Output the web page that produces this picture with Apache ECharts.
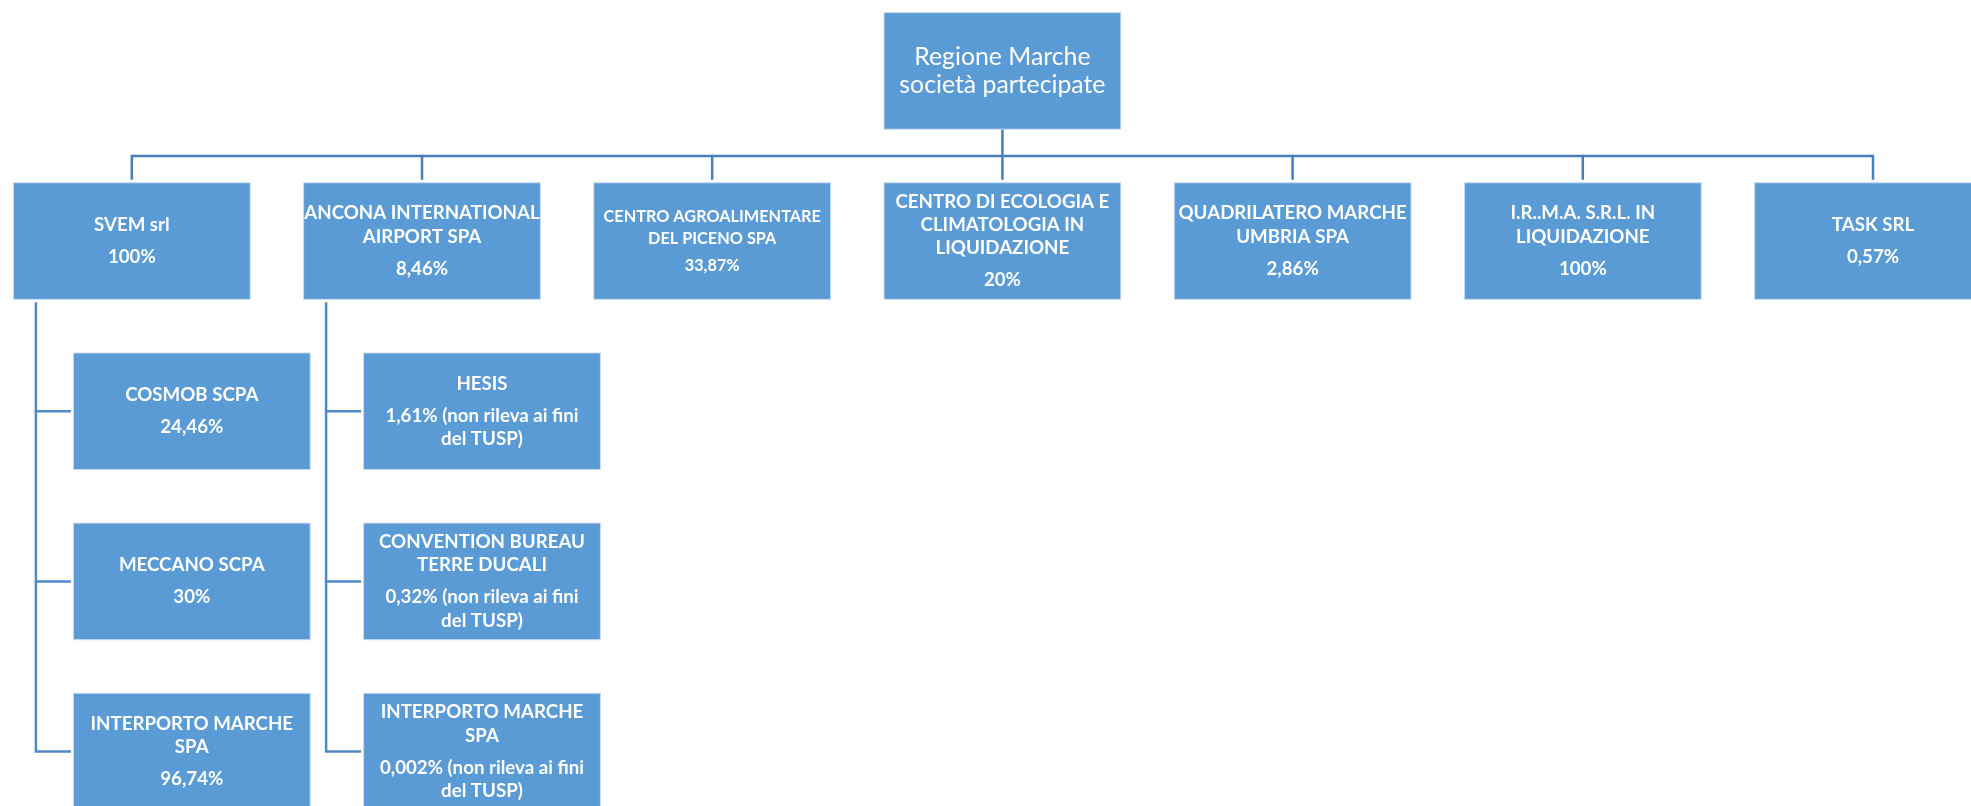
<!DOCTYPE html>
<html>
<head>
<meta charset="utf-8">
<script src="https://cdn.jsdelivr.net/npm/echarts@6/dist/echarts.min.js"></script>
<style>
html,body{margin:0;padding:0;background:#ffffff;}
#chart{width:1971px;height:806px;}
</style>
</head>
<body>
<div id="chart"></div>
<script>
// ---- data ----
const rootLines = ['Regione Marche', 'società partecipate'];
const level1Names = [
  ['SVEM srl'],
  ['ANCONA INTERNATIONAL', 'AIRPORT SPA'],
  ['CENTRO AGROALIMENTARE', 'DEL PICENO SPA'],
  ['CENTRO DI ECOLOGIA E', 'CLIMATOLOGIA IN', 'LIQUIDAZIONE'],
  ['QUADRILATERO MARCHE', 'UMBRIA SPA'],
  ['I.R..M.A. S.R.L. IN', 'LIQUIDAZIONE'],
  ['TASK SRL']
];
const level1Shares = ['100%', '8,46%', '33,87%', '20%', '2,86%', '100%', '0,57%'];
const svemChildNames = [['COSMOB SCPA'], ['MECCANO SCPA'], ['INTERPORTO MARCHE', 'SPA']];
const svemChildShares = [['24,46%'], ['30%'], ['96,74%']];
const anconaChildNames = [['HESIS'], ['CONVENTION BUREAU', 'TERRE DUCALI'], ['INTERPORTO MARCHE', 'SPA']];
const anconaChildShares = [
  ['1,61% (non rileva ai fini', 'del TUSP)'],
  ['0,32% (non rileva ai fini', 'del TUSP)'],
  ['0,002% (non rileva ai fini', 'del TUSP)']
];
// which level-1 node each child group belongs to
const childGroups = [
  { parent: 0, names: svemChildNames, shares: svemChildShares },
  { parent: 1, names: anconaChildNames, shares: anconaChildShares }
];
// level-1 nodes whose text is set smaller in the original
const smallTextNodes = ['CENTRO AGROALIMENTARE'];

// ---- build nodes (structure only: column / row indices) ----
const nodes = [];
const rootCol = (level1Names.length - 1) / 2;
nodes.push({ kind: 'root', col: rootCol, row: 0, name: rootLines, share: [] });
level1Names.forEach((nm, i) => {
  nodes.push({ kind: 'l1', col: i, row: 1, name: nm, share: [level1Shares[i]],
    small: smallTextNodes.indexOf(nm[0]) >= 0 });
});
childGroups.forEach(g => {
  g.names.forEach((nm, j) => {
    nodes.push({ kind: 'child', col: g.parent, row: 2 + j, name: nm, share: g.shares[j], first: j === 0 });
  });
});

// ---- styles ----
const BOX_W = 236.8, BOX_H = 116.6;
const CHILD_DX = 60;        // child box shift right of parent
const ELBOW_INSET = 22.5;   // vertical connector distance from parent left edge
const BOX_FILL = '#5B9BD5';
const BOX_STROKE = '#C9DBF0';
const TOP_LINE = '#4A7EBB';
const CHILD_LINE = '#5189C8';
const FONT = 'Lato, "Open Sans", sans-serif';

const rich = {
  r: { fontFamily: FONT, fontSize: 24.8, fontWeight: 'normal', lineHeight: 27.5, color: '#fff' },
  n: { fontFamily: FONT, fontSize: 18.7, fontWeight: 'bold', lineHeight: 23.3, color: '#fff' },
  g: { fontSize: 1, lineHeight: 8.7 },
  s: { fontFamily: FONT, fontSize: 16.3, fontWeight: 'bold', lineHeight: 21.5, color: '#fff' },
  sg: { fontSize: 1, lineHeight: 5.5 }
};

function labelText(n) {
  if (n.kind === 'root') return n.name.map(l => '{r|' + l + '}').join('\n');
  const st = n.small ? 's' : 'n';
  const gp = n.small ? 'sg' : 'g';
  const parts = n.name.map(l => '{' + st + '|' + l + '}');
  parts.push('{' + gp + '| }');
  n.share.forEach(l => parts.push('{' + st + '|' + l + '}'));
  return parts.join('\n');
}

function renderItem(params, api) {
  const n = nodes[api.value(2)];
  const c = api.coord([n.col, n.row]);
  let cx = c[0];
  const cy = c[1];
  if (n.kind === 'child') cx += CHILD_DX;
  const els = [];
  const rootC = api.coord([rootCol, 0]);
  const l1First = api.coord([0, 1]);
  const l1Last = api.coord([level1Names.length - 1, 1]);
  const busY = ((rootC[1] + BOX_H / 2) + (l1First[1] - BOX_H / 2)) / 2;

  if (n.kind === 'root') {
    els.push({ type: 'line', shape: { x1: cx, y1: cy + BOX_H / 2, x2: cx, y2: busY },
      style: { stroke: TOP_LINE, lineWidth: 2.5 } });
    els.push({ type: 'line', shape: { x1: l1First[0], y1: busY, x2: l1Last[0], y2: busY },
      style: { stroke: TOP_LINE, lineWidth: 2.5 } });
  } else if (n.kind === 'l1') {
    els.push({ type: 'line', shape: { x1: cx, y1: busY - 1.2, x2: cx, y2: cy - BOX_H / 2 - 3 },
      style: { stroke: TOP_LINE, lineWidth: 2.5 } });
  } else {
    const pc = api.coord([n.col, 1]);
    const px = pc[0] - BOX_W / 2 + ELBOW_INSET;
    const top = n.first ? pc[1] + BOX_H / 2 + 3 : api.coord([n.col, n.row - 1])[1];
    els.push({ type: 'polyline', shape: { points: [[px, top], [px, cy], [cx - BOX_W / 2 - 2.5, cy]] },
      style: { stroke: CHILD_LINE, lineWidth: 2.5, fill: null, lineJoin: 'miter' } });
  }
  els.push({ type: 'rect', shape: { x: cx - BOX_W / 2, y: cy - BOX_H / 2, width: BOX_W, height: BOX_H },
    style: { fill: BOX_FILL, stroke: BOX_STROKE, lineWidth: 1 } });
  els.push({ type: 'text', style: { text: labelText(n), rich: rich, x: cx, y: cy,
    align: 'center', verticalAlign: 'middle', fill: '#fff' } });
  return { type: 'group', children: els };
}

// axes map column / row indices onto the page
const COL_PITCH = 290.2, COL0 = 131.8, ROW_PITCH = 170.17, ROW0 = 70.9;
const xMin = -COL0 / COL_PITCH, xMax = xMin + 1971 / COL_PITCH;
const yMin = -ROW0 / ROW_PITCH, yMax = yMin + 806 / ROW_PITCH;

const chart = echarts.init(document.getElementById('chart'), null, { renderer: 'canvas' });
chart.setOption({
  backgroundColor: '#ffffff',
  animation: false,
  grid: { left: 0, right: 0, top: 0, bottom: 0 },
  xAxis: { type: 'value', min: xMin, max: xMax, show: false },
  yAxis: { type: 'value', min: yMin, max: yMax, inverse: true, show: false },
  series: [{
    type: 'custom',
    clip: false,
    renderItem: renderItem,
    data: nodes.map((n, i) => [n.col, n.row, i])
  }]
});
</script>
</body>
</html>
